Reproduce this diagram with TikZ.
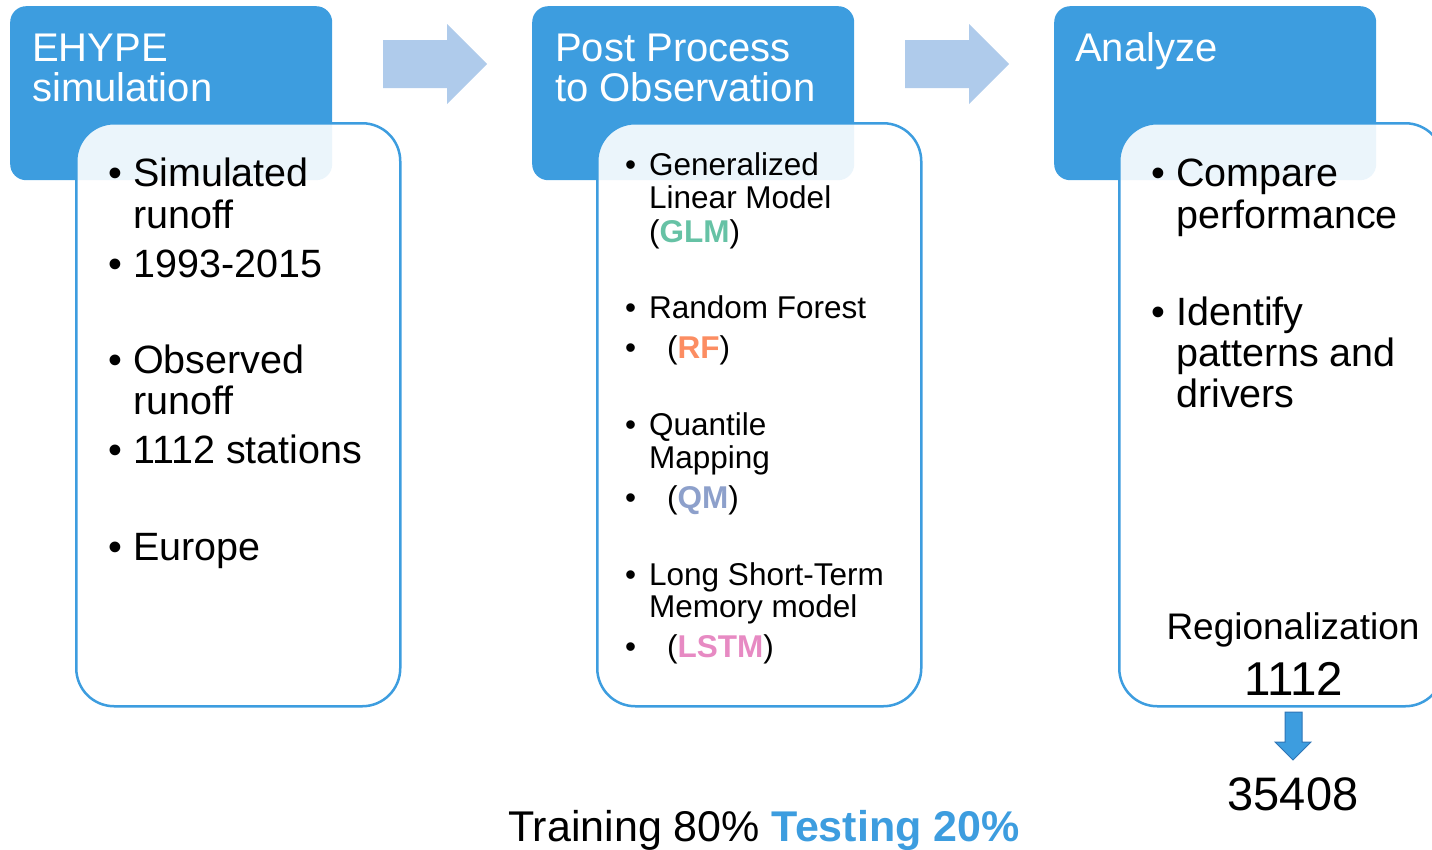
\documentclass[tikz,border=0pt]{standalone}
\usepackage{fontspec}
\setmainfont{Liberation Sans}
\definecolor{hblue}{HTML}{3D9DDF}
\definecolor{arrowblue}{HTML}{AFCBEB}
\definecolor{darkblue}{HTML}{2E75B6}
\definecolor{cglm}{HTML}{66C2A5}
\definecolor{crf}{HTML}{FC8D62}
\definecolor{cqm}{HTML}{8DA0CB}
\definecolor{clstm}{HTML}{E78AC3}
\newcommand{\bul}[1]{\llap{\textbullet\hspace{#1}}}
\begin{document}
\begin{tikzpicture}[x=1pt,y=-1pt,
  hdr/.style={fill=hblue, rounded corners=16pt, minimum width=322pt, minimum height=174pt, anchor=north west, inner sep=0pt},
  cbox/.style={draw=hblue, line width=2.5pt, fill=white, fill opacity=0.9, draw opacity=1, rounded corners=38pt, minimum width=324pt, minimum height=583pt, anchor=north west, inner sep=0pt},
  htxt/.style={text=white, font=\fontsize{40}{40}\selectfont, anchor=base west, inner sep=0pt},
  bigtxt/.style={font=\fontsize{39.5}{40}\selectfont, anchor=base west, inner sep=0pt},
  midtxt/.style={font=\fontsize{31.5}{32}\selectfont, anchor=base west, inner sep=0pt},
  ctxt/.style={anchor=base, inner sep=0pt},
  blockarrow/.style={fill=arrowblue}
]
\useasboundingbox (0,0) rectangle (1432,849);
\clip (0,0) rectangle (1432,849);

% header boxes
\node[hdr] (h1) at (10,6) {};
\node[hdr] (h2) at (532,6) {};
\node[hdr] (h3) at (1054,6) {};

% content boxes
\node[cbox] (c1) at (75,122) {};
\node[cbox] (c2) at (596,122) {};
\node[cbox] (c3) at (1118,122) {};

% header texts
\node[htxt] (t11) at (32,61) {EHYPE};
\node[htxt] (t12) at (32,101) {simulation};
\node[htxt] (t21) at (555,61) {Post Process};
\node[htxt] (t22) at (555,101) {to Observation};
\node[htxt] (t31) at (1075,61) {Analyze};

% block arrows
\coordinate (a1) at (383,40);
\fill[blockarrow] (a1) -- ++(64,0) -- ++(0,-16) -- ++(40,40) -- ++(-40,40) -- ++(0,-16) -- ++(-64,0) -- cycle;
\coordinate (a2) at (905,40);
\fill[blockarrow] (a2) -- ++(64,0) -- ++(0,-16) -- ++(40,40) -- ++(-40,40) -- ++(0,-16) -- ++(-64,0) -- cycle;

% left box content
\node[bigtxt] (l1) at (133,186) {\bul{11pt}Simulated};
\node[bigtxt] (l2) at (133,228) {runoff};
\node[bigtxt] (l3) at (133,277) {\bul{11pt}1993-2015};
\node[bigtxt] (l4) at (133,373) {\bul{11pt}Observed};
\node[bigtxt] (l5) at (133,414) {runoff};
\node[bigtxt] (l6) at (133,463) {\bul{11pt}1112 stations};
\node[bigtxt] (l7) at (133,560) {\bul{11pt}Europe};

% middle box content
\node[midtxt] (m1) at (649,175) {\bul{13pt}Generalized};
\node[midtxt] (m2) at (649,208) {Linear Model};
\node[midtxt] (m3) at (649,242) {({\bfseries\color{cglm}GLM})};
\node[midtxt] (m4) at (649,318) {\bul{13pt}Random Forest};
\node[midtxt] (m5) at (649,358) {\bul{13pt}\hspace{18pt}({\bfseries\color{crf}RF})};
\node[midtxt] (m6) at (649,435) {\bul{13pt}Quantile};
\node[midtxt] (m7) at (649,468) {Mapping};
\node[midtxt] (m8) at (649,508) {\bul{13pt}\hspace{18pt}({\bfseries\color{cqm}QM})};
\node[midtxt] (m9) at (649,585) {\bul{13pt}Long Short-Term};
\node[midtxt] (m10) at (649,617) {Memory model};
\node[midtxt] (m11) at (649,657) {\bul{13pt}\hspace{18pt}({\bfseries\color{clstm}LSTM})};

% right box content
\node[bigtxt] (r1) at (1176,186) {\bul{11pt}Compare};
\node[bigtxt] (r2) at (1176,228) {performance};
\node[bigtxt] (r3) at (1176,325) {\bul{11pt}Identify};
\node[bigtxt] (r4) at (1176,366) {patterns and};
\node[bigtxt] (r5) at (1176,407) {drivers};
\node[ctxt, font=\fontsize{37}{38}\selectfont] (reg) at (1293,639) {Regionalization};
\node[ctxt, font=\fontsize{47.5}{48}\selectfont] (n1) at (1294,695) {1112};
\node[ctxt, font=\fontsize{47}{48}\selectfont] (n2) at (1293,810) {35408};

% down arrow
\coordinate (d0) at (1285,712);
\filldraw[fill=hblue, draw=darkblue, line width=1pt, line join=miter] (d0) -- ++(17,0) -- ++(0,30) -- ++(9,0) -- ++(-18,18) -- ++(-18,-18) -- ++(10,0) -- cycle;

% bottom text
\node[anchor=base west, inner sep=0pt, font=\fontsize{43}{44}\selectfont] (bt) at (508,841) {Training 80\% {\bfseries\color{hblue}Testing 20\%}};
\end{tikzpicture}
\end{document}
